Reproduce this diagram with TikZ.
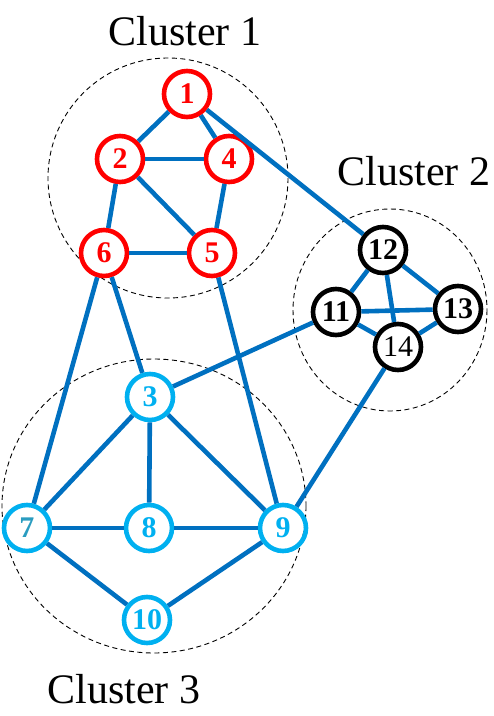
\documentclass[tikz,border=0pt]{standalone}
\usepackage{fontspec}
\setmainfont{Liberation Serif}
\definecolor{edgeblue}{HTML}{0070C0}
\definecolor{nred}{HTML}{FF0000}
\definecolor{ncyan}{HTML}{00B0F0}
\definecolor{nteal}{HTML}{2A9CC0}
\begin{document}
\begin{tikzpicture}[x=1pt,y=-1pt,
  vnode/.style={circle,draw,line width=4.6pt,minimum size=46pt,inner sep=0pt,
    font=\fontsize{30}{30}\selectfont\bfseries},
  rnode/.style={vnode,draw=nred,text=nred},
  cnode/.style={vnode,draw=ncyan,text=ncyan},
  knode/.style={vnode,draw=black,text=black},
  edge/.style={draw=edgeblue,line width=4.6pt},
  cluster/.style={draw=black,dashed,dash pattern=on 5pt off 3.5pt,line width=0.9pt},
  clabel/.style={font=\fontsize{42}{42}\selectfont,anchor=base}]
\useasboundingbox (0,0) rectangle (494,716);
% clusters
\draw[cluster] (168,178) circle (120);
\draw[cluster] (390,310) ellipse (97 and 101);
\draw[cluster] (154,506) ellipse (152 and 147);
\node[clabel] (l1) at (185,45) {Cluster 1};
\node[clabel] (l2) at (414,185) {Cluster 2};
\node[clabel] (l3) at (124,703) {Cluster 3};
% nodes
\node[rnode] (n1) at (187,94) {1};
\node[rnode] (n2) at (120,159) {2};
\node[rnode] (n4) at (229,159) {4};
\node[rnode] (n6) at (104,253) {6};
\node[rnode] (n5) at (212,253) {5};
\node[knode] (n12) at (383,250) {12};
\node[knode] (n11) at (336,312) {11};
\node[knode] (n13) at (458,309) {13};
\node[knode,font=\fontsize{30}{30}\selectfont] (n14) at (398,347) {14};
\node[cnode] (n3) at (150,397) {3};
\node[cnode,text=nteal] (n7) at (27,528) {7};
\node[cnode] (n8) at (149,528) {8};
\node[cnode] (n9) at (283,528) {9};
\node[cnode] (n10) at (147,620) {10};
% edges
\foreach \a/\b in {n1/n2,n1/n4,n1/n12,n2/n4,n2/n6,n2/n5,n4/n5,n6/n5,n6/n3,n6/n7,n5/n9,
  n11/n3,n11/n12,n11/n13,n11/n14,n12/n13,n12/n14,n13/n14,n14/n9,
  n3/n7,n3/n8,n3/n9,n7/n8,n8/n9,n7/n10,n9/n10}
  \draw[edge] (\a) -- (\b);
\end{tikzpicture}
\end{document}
